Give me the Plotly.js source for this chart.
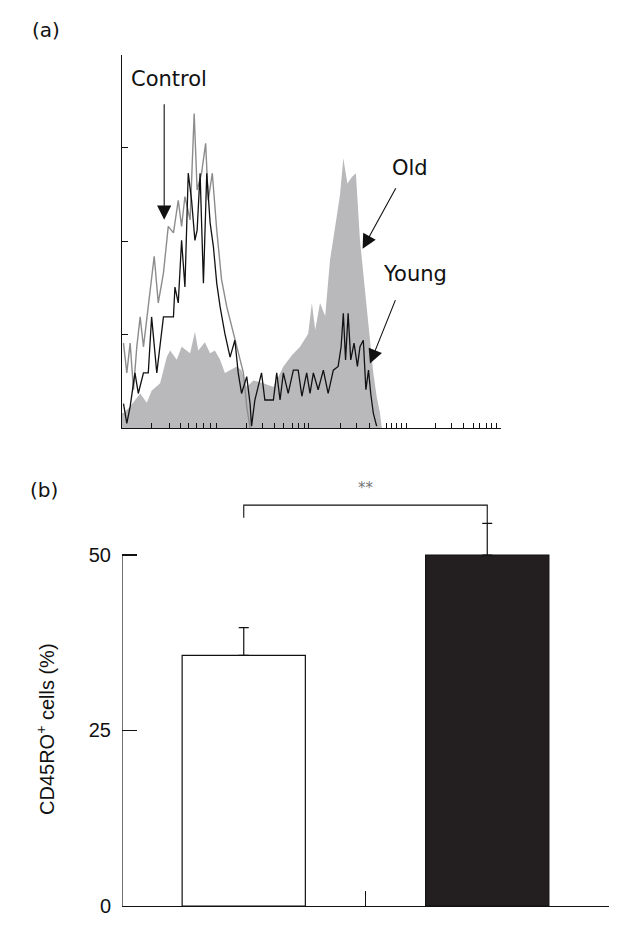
<!DOCTYPE html>
<html>
<head>
<meta charset="utf-8">
<script src="https://cdn.plot.ly/plotly-3.0.1.min.js"></script>
<style>
  html, body { margin: 0; padding: 0; background: #fff; }
  #chart { width: 634px; height: 925px; }
</style>
</head>
<body>
<div id="chart"></div>
<script>
// (a) flow cytometry histograms - fluorescence channel (0-1024) vs cell count
const oldChannel = [0, 4, 22, 49, 67, 80, 103, 121, 130, 148, 161, 184, 197, 206, 224, 238, 251, 265, 278, 292, 310, 323, 337, 355, 382, 409, 436, 459, 481, 503, 513, 522, 535, 549, 562, 576, 589, 598, 609, 621, 632, 643, 652, 661, 670, 679, 688, 697, 702];
const oldCount = [16, 16, 23, 37, 27, 40, 48, 76, 83, 73, 87, 80, 103, 83, 92, 80, 83, 73, 59, 62, 66, 62, 44, 51, 48, 44, 66, 78, 87, 101, 134, 105, 134, 120, 180, 216, 250, 289, 262, 269, 273, 201, 166, 130, 94, 59, 34, 16, 0];

const youngChannel = [4, 13, 22, 35, 44, 58, 71, 80, 94, 112, 139, 143, 152, 161, 170, 179, 188, 197, 203, 211, 220, 229, 238, 247, 256, 265, 278, 292, 305, 314, 323, 337, 346, 350, 359, 377, 386, 409, 418, 427, 436, 449, 463, 476, 486, 499, 508, 517, 530, 544, 557, 571, 584, 592, 598, 604, 611, 618, 627, 636, 643, 652, 659, 666, 672, 679, 688];
const youngCount = [26, 5, 23, 59, 37, 59, 59, 119, 59, 119, 119, 151, 134, 201, 151, 273, 244, 201, 212, 273, 155, 273, 220, 194, 155, 130, 101, 76, 94, 59, 37, 55, 26, 2, 30, 59, 30, 30, 59, 30, 59, 37, 62, 62, 34, 59, 37, 59, 41, 62, 37, 62, 66, 87, 123, 73, 123, 73, 91, 66, 87, 94, 41, 62, 37, 16, 2];

const controlChannel = [4, 13, 22, 31, 40, 49, 58, 67, 76, 87, 98, 112, 125, 139, 152, 161, 170, 184, 195, 203, 215, 226, 233, 244, 256, 269, 283, 296, 310, 319, 328, 337, 346];
const controlCount = [91, 59, 91, 41, 87, 119, 87, 119, 151, 184, 134, 166, 216, 209, 244, 216, 248, 223, 337, 255, 273, 305, 244, 273, 212, 159, 130, 109, 87, 73, 59, 23, 0];

// minor tick marks along the log fluorescence axis (channel units)
const histTicks = [80, 128, 157, 179, 200, 220, 238, 254, 337, 380, 411, 436, 461, 476, 492, 505, 589, 634, 670, 715, 729, 742, 756, 769, 846, 891, 922, 949, 967, 985, 999, 1012, 1023];
const countTicks = [100, 200, 300, 400];

// (b) percentage of CD45RO+ cells
const groups = ['Young', 'Old'];
const pctMean = [35.7, 50.0];
const pctSem = [3.95, 4.5];
const pctTicks = [0, 25, 50];
const bracketTop = 57.1;
const bracketEnds = [55.3, 54.5];
const sigLabel = '**';

const FONT = 'DejaVu Sans, sans-serif';
const FONT_B = 'Liberation Sans, Arial, sans-serif';
const groupX = groups.map((g, i) => i);

const data = [
    {
        type: 'scatter', mode: 'lines', name: 'Old',
        x: oldChannel, y: oldCount,
        fill: 'tozeroy', fillcolor: '#b9b9bc',
        line: { width: 0, color: '#b9b9bc' },
        xaxis: 'x', yaxis: 'y'
    },
    {
        type: 'scatter', mode: 'lines', name: 'Control',
        x: controlChannel, y: controlCount,
        line: { width: 1.4, color: '#8c8c8c' },
        xaxis: 'x', yaxis: 'y'
    },
    {
        type: 'scatter', mode: 'lines', name: 'Young',
        x: youngChannel, y: youngCount,
        line: { width: 1.3, color: '#111' },
        xaxis: 'x', yaxis: 'y'
    },
    {
        type: 'bar', name: 'CD45RO+',
        x: groupX, y: pctMean, width: 0.506,
        marker: { color: ['#ffffff', '#231f20'], line: { color: '#111', width: 1.2 } },
        error_y: {
            type: 'data', symmetric: false,
            array: pctSem, arrayminus: pctSem.map(() => 0),
            color: '#111', thickness: 1.2, width: 5
        },
        xaxis: 'x2', yaxis: 'y2'
    },
    {
        // significance bracket between the two bars
        type: 'scatter', mode: 'lines', name: 'bracket',
        x: [groupX[0], groupX[0], groupX[1], groupX[1]],
        y: [bracketEnds[0], bracketTop, bracketTop, bracketEnds[1]],
        line: { width: 1.1, color: '#111' },
        xaxis: 'x2', yaxis: 'y2'
    }
];

const arrowStyle = { text: '', showarrow: true, arrowhead: 2, arrowsize: 2.6, arrowwidth: 1.1, arrowcolor: '#111', axref: 'pixel', ayref: 'pixel' };
const labelFont = { family: FONT, size: 21, color: '#111' };
const centred = { xanchor: 'center', yanchor: 'middle', showarrow: false };

const layout = {
    width: 634, height: 925,
    margin: { l: 0, r: 0, t: 0, b: 0 },
    paper_bgcolor: '#fff', plot_bgcolor: 'rgba(0,0,0,0)',
    showlegend: false,
    font: { family: FONT, color: '#111' },
    xaxis: {
        domain: [0.19243, 0.79022], range: [0, 1024],
        showgrid: false, zeroline: false, showline: true, linecolor: '#111', linewidth: 1.2,
        tickmode: 'array', tickvals: histTicks, showticklabels: false,
        ticks: 'inside', ticklen: 5, tickcolor: '#111', tickwidth: 1
    },
    yaxis: {
        domain: [0.5373, 0.9409], range: [0, 400],
        showgrid: false, zeroline: false, showline: true, linecolor: '#111', linewidth: 1.2,
        tickmode: 'array', tickvals: countTicks, showticklabels: false,
        ticks: 'inside', ticklen: 6, tickcolor: '#111', tickwidth: 1
    },
    xaxis2: {
        domain: [0.19243, 0.96057], range: [-0.5, 1.5], anchor: 'y2',
        showgrid: false, zeroline: false, showline: true, linecolor: '#111', linewidth: 1.2,
        tickmode: 'array', tickvals: [0.5, 1.5], showticklabels: false,
        ticks: 'inside', ticklen: 15, tickcolor: '#111', tickwidth: 1.2
    },
    yaxis2: {
        domain: [0.02054, 0.48108], range: [0, 60.68], anchor: 'x2',
        showgrid: false, zeroline: false, showline: false,
        tickmode: 'array', tickvals: pctTicks,
        ticks: 'inside', ticklen: 15, tickcolor: '#111', tickwidth: 1.2,
        ticklabelstandoff: 10,
        tickfont: { family: FONT_B, size: 20, color: '#111' }
    },
    shapes: [
        // y axis line of (b) stops at the top tick
        { type: 'line', xref: 'x2', yref: 'y2', x0: -0.5, x1: -0.5, y0: 0, y1: pctTicks[pctTicks.length - 1],
          line: { color: '#111', width: 1.2 } }
    ],
    annotations: [
        Object.assign({ xref: 'paper', yref: 'paper', x: 45.5 / 634, y: 1 - 30 / 925, text: '(a)',
          font: { family: FONT, size: 20, color: '#111' } }, centred),
        Object.assign({ xref: 'paper', yref: 'paper', x: 44.5 / 634, y: 1 - 490 / 925, text: '(b)',
          font: { family: FONT, size: 20, color: '#111' } }, centred),

        Object.assign({ xref: 'x', yref: 'y', x: 127, y: 374, text: 'Control', font: labelFont }, centred),
        Object.assign({ xref: 'x', yref: 'y', x: 779, y: 279, text: 'Old', font: labelFont }, centred),
        Object.assign({ xref: 'x', yref: 'y', x: 791, y: 165, text: 'Young', font: labelFont }, centred),

        Object.assign({ xref: 'x', yref: 'y', x: 114, y: 223, ax: 0, ay: -117 }, arrowStyle),
        Object.assign({ xref: 'x', yref: 'y', x: 650, y: 192, ax: 34, ay: -62 }, arrowStyle),
        Object.assign({ xref: 'x', yref: 'y', x: 670, y: 69, ax: 26, ay: -65 }, arrowStyle),

        Object.assign({ xref: 'x2', yref: 'y2', x: (groupX[0] + groupX[1]) / 2, y: bracketTop + 2.4, text: sigLabel,
          font: { family: FONT, size: 15, color: '#777' } }, centred),

        Object.assign({ xref: 'paper', yref: 'paper', x: 45 / 634, y: 1 - 729 / 925, text: 'CD45RO<sup>+</sup> cells (%)',
          textangle: -90, font: { family: FONT_B, size: 20, color: '#111' } }, centred)
    ]
};

Plotly.newPlot('chart', data, layout, { staticPlot: true, displayModeBar: false });
</script>
</body>
</html>
